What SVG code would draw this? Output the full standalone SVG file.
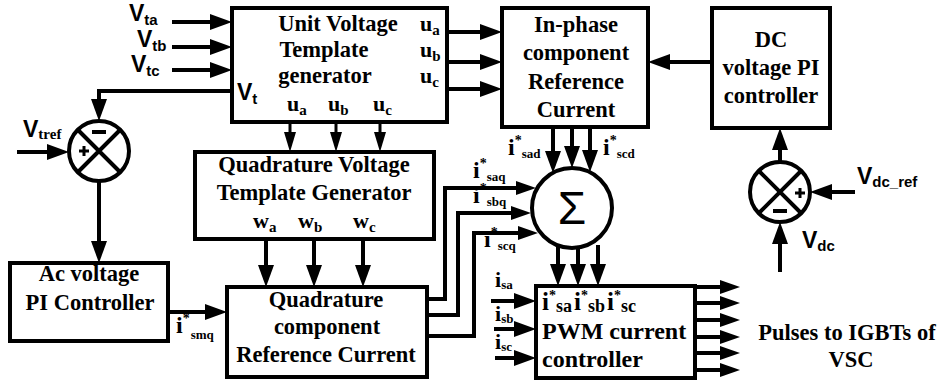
<svg xmlns="http://www.w3.org/2000/svg" width="943" height="383" viewBox="0 0 943 383">
<style>
.box{fill:#fff;stroke:#000;stroke-width:4}
.ln{fill:none;stroke:#000;stroke-width:4}
.thin{fill:none;stroke:#000;stroke-width:3}
.t{font-family:'Liberation Serif','DejaVu Serif',serif;font-weight:700;font-size:22.5px;text-anchor:middle;fill:#000}
.tl{font-family:'Liberation Serif','DejaVu Serif',serif;font-weight:700;font-size:22px;fill:#000}
.sv{font-family:'Liberation Sans','DejaVu Sans',sans-serif;font-weight:700;font-size:23px;fill:#000}
.sub{font-size:15px}
.sup{font-size:14px}
.isub{font-size:13px}
</style>
<defs>
<marker id="ah" markerUnits="userSpaceOnUse" markerWidth="22" markerHeight="16" refX="12" refY="8" orient="auto"><path d="M0,0 L22,8 L0,16 z" fill="#000"/></marker>
<marker id="as" markerUnits="userSpaceOnUse" markerWidth="20" markerHeight="12" refX="10" refY="6" orient="auto"><path d="M0,0 L20,6 L0,12 z" fill="#000"/></marker>
<marker id="am" markerUnits="userSpaceOnUse" markerWidth="20" markerHeight="14" refX="10" refY="7" orient="auto"><path d="M0,0 L20,7 L0,14 z" fill="#000"/></marker>
</defs>

<g id="connectors">
<path class="ln" d="M172,22 H222" marker-end="url(#ah)"/>
<path class="ln" d="M172,47 H222" marker-end="url(#ah)"/>
<path class="ln" d="M172,70 H222" marker-end="url(#ah)"/>
<path class="ln" d="M232,91 H99 V111" marker-end="url(#ah)"/>
<path class="ln" d="M17,152 H59" marker-end="url(#ah)"/>
<path class="ln" d="M99,181 V253" marker-end="url(#ah)"/>
<path class="ln" d="M168,312 H217" marker-end="url(#ah)"/>
<path class="ln" d="M447,32 H492" marker-end="url(#ah)"/>
<path class="ln" d="M447,62 H492" marker-end="url(#ah)"/>
<path class="ln" d="M447,89 H492" marker-end="url(#ah)"/>
<path class="thin" d="M290,122 V142" marker-end="url(#as)"/>
<path class="thin" d="M336,122 V142" marker-end="url(#as)"/>
<path class="thin" d="M380,122 V142" marker-end="url(#as)"/>
<path class="ln" d="M266,239 V277" marker-end="url(#ah)"/>
<path class="ln" d="M314,239 V277" marker-end="url(#ah)"/>
<path class="ln" d="M363,239 V277" marker-end="url(#ah)"/>
<path class="ln" d="M427,299 H445 V188 H526" marker-end="url(#am)"/>
<path class="ln" d="M427,315 H458 V213 H521" marker-end="url(#am)"/>
<path class="ln" d="M427,336 H474 V233 H528" marker-end="url(#am)"/>
<path class="ln" d="M553,127 V163" marker-end="url(#ah)"/>
<path class="ln" d="M572,127 V158" marker-end="url(#ah)"/>
<path class="ln" d="M590,127 V162" marker-end="url(#ah)"/>
<path class="ln" d="M558,245 V276" marker-end="url(#ah)"/>
<path class="ln" d="M578,248 V276" marker-end="url(#ah)"/>
<path class="ln" d="M598,245 V276" marker-end="url(#ah)"/>
<path class="ln" d="M491,301 H526" marker-end="url(#ah)"/>
<path class="ln" d="M494,329 H526" marker-end="url(#ah)"/>
<path class="ln" d="M495,358 H526" marker-end="url(#ah)"/>
<path class="ln" d="M695,287 H730" marker-end="url(#am)"/>
<path class="ln" d="M695,303 H730" marker-end="url(#am)"/>
<path class="ln" d="M695,320 H730" marker-end="url(#am)"/>
<path class="ln" d="M695,337 H730" marker-end="url(#am)"/>
<path class="ln" d="M695,353 H730" marker-end="url(#am)"/>
<path class="ln" d="M695,370 H730" marker-end="url(#am)"/>
<path class="ln" d="M712,62 H658" marker-end="url(#ah)"/>
<path class="ln" d="M780,162 V138" marker-end="url(#ah)"/>
<path class="ln" d="M855,192 H820" marker-end="url(#ah)"/>
<path class="ln" d="M780,272 V232" marker-end="url(#ah)"/>
</g>

<g id="labels">
<text class="sv" x="129" y="21">V<tspan class="sub" dy="4">ta</tspan></text>
<text class="sv" x="137" y="47">V<tspan class="sub" dy="4">tb</tspan></text>
<text class="sv" x="131" y="72">V<tspan class="sub" dy="4">tc</tspan></text>
<text class="sv" x="23" y="137">V<tspan class="tl" style="font-size:15px" dy="2">tref</tspan></text>
<text class="tl" x="176" y="333" style="font-size:24px">i<tspan class="sup" dy="-10">*</tspan><tspan class="isub" dx="1" dy="16">smq</tspan></text>
<text class="tl" x="473" y="178" style="font-size:24px">i<tspan class="sup" dy="-10">*</tspan><tspan class="isub" dx="0" dy="13">saq</tspan></text>
<text class="tl" x="473" y="203" style="font-size:24px">i<tspan class="sup" dy="-10">*</tspan><tspan class="isub" dx="0" dy="13">sbq</tspan></text>
<text class="tl" x="484" y="247" style="font-size:24px">i<tspan class="sup" dy="-10">*</tspan><tspan class="isub" dx="0" dy="13">scq</tspan></text>
<text class="tl" x="508" y="155" style="font-size:24px">i<tspan class="sup" dy="-10">*</tspan><tspan class="isub" dx="0" dy="13">sad</tspan></text>
<text class="tl" x="603" y="155" style="font-size:24px">i<tspan class="sup" dy="-10">*</tspan><tspan class="isub" dx="0" dy="13">scd</tspan></text>
<text class="tl" x="495" y="287">i<tspan class="isub" dy="2">sa</tspan></text>
<text class="tl" x="495" y="321">i<tspan class="isub" dy="2">sb</tspan></text>
<text class="tl" x="495" y="349">i<tspan class="isub" dy="2">sc</tspan></text>
<text class="sv" x="857" y="184">V<tspan class="sub" dy="3">dc_ref</tspan></text>
<text class="sv" x="802" y="248">V<tspan class="sub" dy="3">dc</tspan></text>
<text class="t" x="847" y="340">Pulses to IGBTs of</text>
<text class="t" x="851" y="367">VSC</text>
</g>

<g id="unit-voltage-template">
<rect class="box" x="232" y="8" width="215" height="114"/>
<text class="t" x="338" y="31">Unit Voltage</text>
<text class="t" x="324" y="57">Template</text>
<text class="t" x="325" y="83">generator</text>
<text class="tl" x="420" y="31">u<tspan class="sub" dy="4">a</tspan></text>
<text class="tl" x="420" y="57">u<tspan class="sub" dy="4">b</tspan></text>
<text class="tl" x="420" y="83">u<tspan class="sub" dy="4">c</tspan></text>
<text class="tl" x="287" y="111">u<tspan class="sub" dy="4">a</tspan></text>
<text class="tl" x="328" y="111">u<tspan class="sub" dy="4">b</tspan></text>
<text class="tl" x="373" y="111">u<tspan class="sub" dy="4">c</tspan></text>
<text class="sv" x="237" y="100">V<tspan class="sub" dy="4">t</tspan></text>
</g>

<g id="in-phase">
<rect class="box" x="502" y="8" width="146" height="119"/>
<text class="t" x="576" y="32">In-phase</text>
<text class="t" x="576" y="60">component</text>
<text class="t" x="576" y="89">Reference</text>
<text class="t" x="576" y="117">Current</text>
</g>

<g id="dc-pi">
<rect class="box" x="712" y="8" width="118" height="120"/>
<text class="t" x="771" y="47">DC</text>
<text class="t" x="771" y="75">voltage PI</text>
<text class="t" x="771" y="103">controller</text>
</g>

<g id="ac-sum">
<circle class="box" cx="99" cy="151" r="30"/>
<path class="ln" d="M78,130 L120,172 M120,130 L78,172"/>
<path class="ln" d="M92,132 H106"/>
<path class="ln" d="M79,151 H89 M84,146 V156" style="stroke-width:3"/>
</g>

<g id="ac-pi">
<rect class="box" x="10" y="263" width="158" height="78"/>
<text class="t" x="89" y="281">Ac voltage</text>
<text class="t" x="90" y="310">PI Controller</text>
</g>

<g id="quad-voltage-template">
<rect class="box" x="195" y="152" width="239" height="87"/>
<text class="t" x="314" y="172">Quadrature Voltage</text>
<text class="t" x="314" y="200">Template Generator</text>
<text class="tl" x="253" y="228">w<tspan class="sub" dy="4">a</tspan></text>
<text class="tl" x="298" y="228">w<tspan class="sub" dy="4">b</tspan></text>
<text class="tl" x="353" y="228">w<tspan class="sub" dy="4">c</tspan></text>
</g>

<g id="quad-current">
<rect class="box" x="227" y="287" width="200" height="90"/>
<text class="t" x="326" y="307">Quadrature</text>
<text class="t" x="327" y="334">component</text>
<text class="t" x="326" y="362">Reference Current</text>
</g>

<g id="sigma">
<circle class="box" cx="572" cy="208" r="40"/>
<text x="572" y="224" style="font-family:'Liberation Sans','DejaVu Sans',sans-serif;font-size:46px;text-anchor:middle">Σ</text>
</g>

<g id="pwm">
<rect class="box" x="536" y="286" width="159" height="92"/>
<text class="tl" x="542" y="310" style="font-size:25px">i<tspan class="sup" dy="-10">*</tspan><tspan style="font-size:18px" dy="12">sa</tspan><tspan dx="2" dy="-2" style="font-size:25px">i</tspan><tspan class="sup" dy="-10">*</tspan><tspan style="font-size:18px" dy="12">sb</tspan><tspan dx="2" dy="-2" style="font-size:25px">i</tspan><tspan class="sup" dy="-10">*</tspan><tspan style="font-size:18px" dy="12">sc</tspan></text>
<text class="tl" x="542" y="339" style="font-size:24px">PWM current</text>
<text class="tl" x="542" y="367" style="font-size:24px">controller</text>
</g>

<g id="dc-sum">
<circle class="box" cx="780" cy="192" r="30"/>
<path class="ln" d="M759,171 L801,213 M801,171 L759,213"/>
<path class="ln" d="M795,193 H805 M800,188 V198" style="stroke-width:3"/>
<path class="ln" d="M773,211 H787"/>
</g>
</svg>
